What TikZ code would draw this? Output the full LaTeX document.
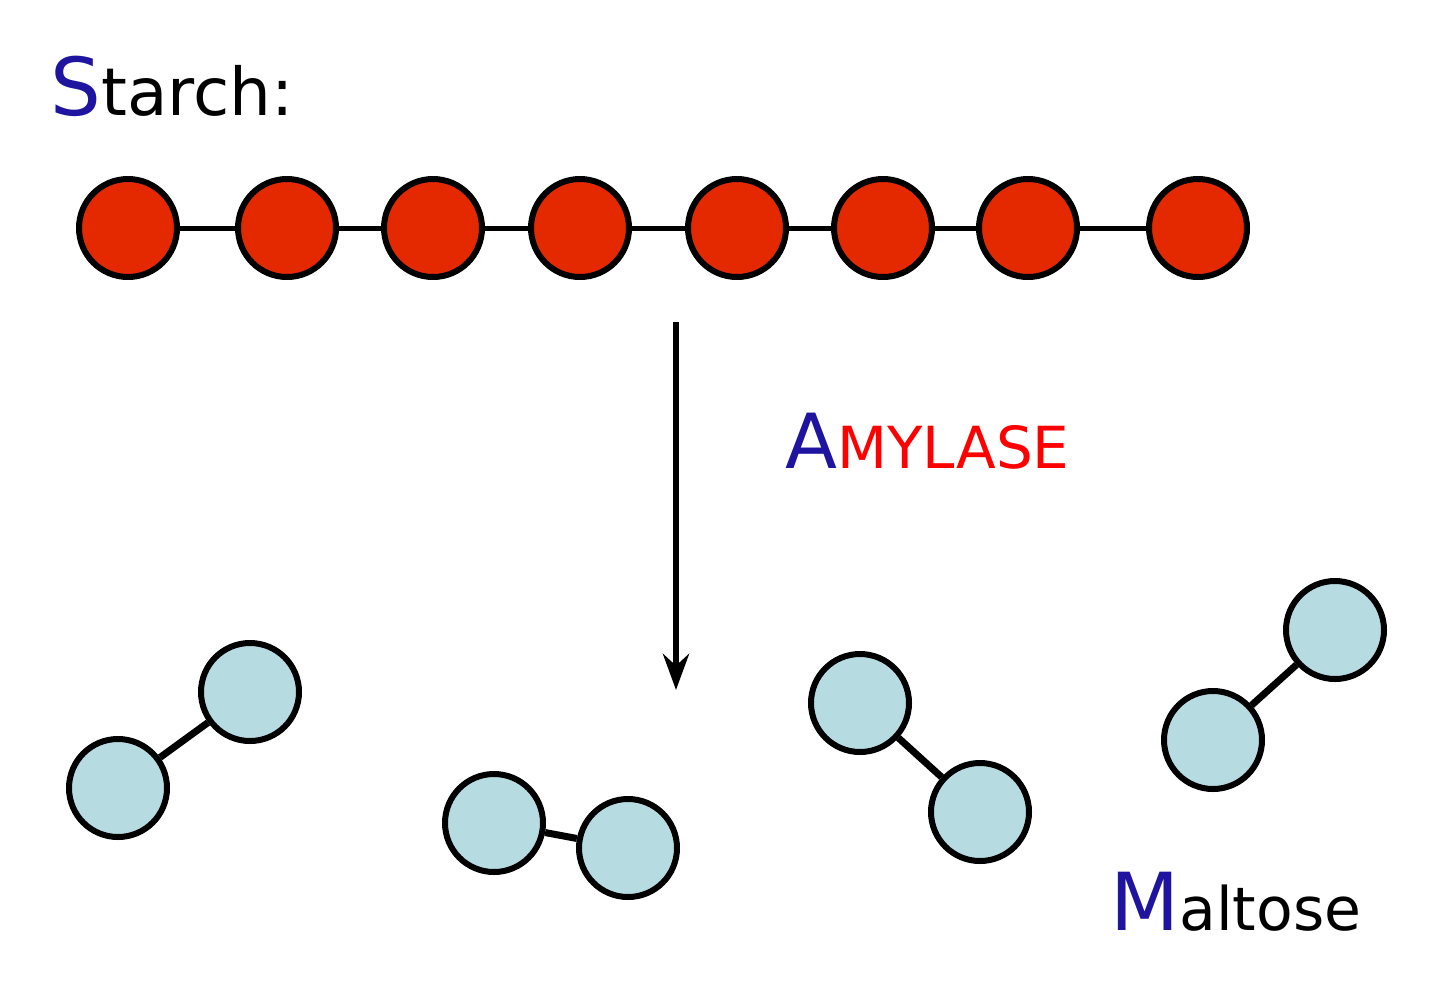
\documentclass[tikz,border=0pt]{standalone}
\usepackage{fontspec}
\usetikzlibrary{arrows.meta}
\setmainfont{DejaVu Sans}
\definecolor{starchred}{RGB}{228,40,0}
\definecolor{maltblue}{RGB}{182,220,226}
\definecolor{capblue}{RGB}{30,20,160}
\begin{document}
\begin{tikzpicture}[x=0.5pt,y=-0.5pt,>=stealth]
	\tikzstyle{s-node}=[circle,draw=black,line width=3pt,fill=starchred,minimum size=49pt,inner sep=0pt]
	\tikzstyle{m-node}=[circle,draw=black,line width=3pt,fill=maltblue,minimum size=49pt,inner sep=0pt]
	\tikzstyle{bond}=[line width=2.5pt]
	\tikzstyle{annot}=[inner sep=0pt,anchor=base west]
	\useasboundingbox (0,0) rectangle (1440,997);
	% labels
	\node[annot] (starch) at (50,115) {\fontsize{40}{40}\selectfont\textcolor{capblue}{S}\fontsize{33}{33}\selectfont tarch:};
	\node[annot] (amylase) at (785,468) {\fontsize{38}{38}\selectfont\textcolor{capblue}{A}\fontsize{29}{29}\selectfont\textcolor{red}{MYLASE}};
	\node[annot] (maltose) at (1110,930) {\fontsize{40}{40}\selectfont\textcolor{capblue}{M}\fontsize{30}{30}\selectfont altose};
	% starch chain
	\foreach \x [count=\i] in {128,287,433,580,737,883,1028,1198}
		\node[s-node] (s\i) at (\x,228) {};
	\foreach \i [evaluate=\i as \j using int(\i+1)] in {1,...,7}
		\draw[bond] (s\i) -- (s\j);
	% arrow
	\coordinate (a0) at (676,322);
	\coordinate (a1) at (676,690);
	\draw[-{Stealth[length=18pt,width=13pt]},line width=3pt] (a0) -- (a1);
	% maltose
	\node[m-node] (m1a) at (118,788) {};
	\node[m-node] (m1b) at (250,692) {};
	\node[m-node] (m2a) at (494,823) {};
	\node[m-node] (m2b) at (628,848) {};
	\node[m-node] (m3a) at (860,703) {};
	\node[m-node] (m3b) at (980,812) {};
	\node[m-node] (m4a) at (1213,740) {};
	\node[m-node] (m4b) at (1335,630) {};
	\foreach \k in {1,...,4}
		\draw[bond,line width=3.5pt] (m\k a) -- (m\k b);
\end{tikzpicture}
\end{document}
